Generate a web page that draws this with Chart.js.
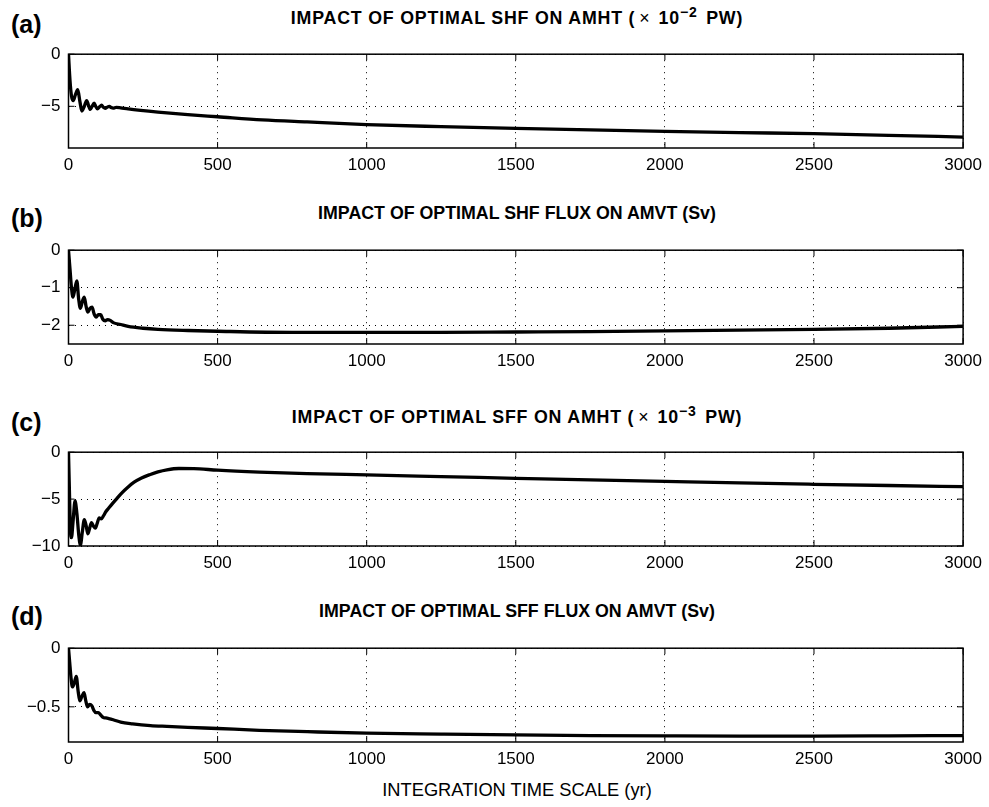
<!DOCTYPE html>
<html>
<head>
<meta charset="utf-8">
<script src="https://cdn.jsdelivr.net/npm/chart.js@4/dist/chart.umd.min.js"></script>
<style>
  body { margin: 0; background: #fff; width: 989px; height: 807px; position: relative; overflow: hidden; font-family: "Liberation Sans", Arial, sans-serif; color: #000; }
  canvas { position: absolute; left: 0; }
  .lbl { position: absolute; left: 11px; font-weight: bold; font-size: 25px; line-height: 1; }
  .ttl { position: absolute; left: 517px; transform: translateX(-50%); font-weight: bold; font-size: 17.8px; line-height: 1; white-space: nowrap; }
  .ttl.wide { letter-spacing: 0.8px; }
  .ttl sup { font-size: 14px; vertical-align: 7px; line-height: 0; margin-right: 3px; }
  .ttl .tm { font-weight: normal; margin: 0 8px 0 4px; }
  .xlab { position: absolute; left: 517px; top: 781px; transform: translateX(-50%); font-size: 18.3px; line-height: 1; white-space: nowrap; }
</style>
</head>
<body>
<div class="lbl" style="top:12px">(a)</div>
<div class="ttl wide" style="top:10px">IMPACT OF OPTIMAL SHF ON AMHT (<span class="tm">×</span>10<sup>−2</sup> PW)</div>
<canvas id="pa" width="989" height="142" style="top:36px"></canvas>

<div class="lbl" style="top:206px">(b)</div>
<div class="ttl" style="top:205px">IMPACT OF OPTIMAL SHF FLUX ON AMVT (Sv)</div>
<canvas id="pb" width="989" height="142" style="top:232px"></canvas>

<div class="lbl" style="top:410px">(c)</div>
<div class="ttl wide" style="top:409px">IMPACT OF OPTIMAL SFF ON AMHT (<span class="tm">×</span>10<sup>−3</sup> PW)</div>
<canvas id="pc" width="989" height="142" style="top:434px"></canvas>

<div class="lbl" style="top:604px">(d)</div>
<div class="ttl" style="top:603px">IMPACT OF OPTIMAL SFF FLUX ON AMVT (Sv)</div>
<canvas id="pd" width="989" height="142" style="top:630px"></canvas>

<div class="xlab">INTEGRATION TIME SCALE (yr)</div>

<script>
const X_TICKS = [0, 500, 1000, 1500, 2000, 2500, 3000];

// (a) optimal SHF -> AMHT (x1e-2 PW)
const YEARS_A = [0, 5, 10, 16, 23, 31, 38, 45, 53, 61, 67, 73, 79, 86, 91, 97, 104, 111, 117, 123, 130, 137, 143, 150, 160, 175, 200, 300, 400, 500, 650, 800, 1000, 1250, 1500, 1750, 2000, 2250, 2500, 2750, 3000];
const AMHT_SHF = [0, -2.5, -4.0, -4.45, -3.9, -3.4, -4.5, -5.45, -5.0, -4.45, -4.9, -5.3, -5.0, -4.7, -5.0, -5.25, -5.05, -4.9, -5.1, -5.2, -5.08, -5.0, -5.12, -5.18, -5.1, -5.15, -5.25, -5.55, -5.8, -6.0, -6.3, -6.5, -6.75, -6.95, -7.12, -7.27, -7.4, -7.52, -7.63, -7.78, -7.95];

// (b) optimal SHF flux -> AMVT (Sv)
const YEARS_B = [0, 5, 10, 15, 21, 28, 34, 40, 47, 53, 59, 65, 72, 79, 86, 93, 100, 108, 115, 123, 131, 140, 150, 175, 200, 250, 300, 400, 500, 750, 1000, 1250, 1500, 1750, 2000, 2250, 2500, 2750, 3000];
const AMVT_SHF = [0, -0.5, -1.0, -1.25, -1.05, -0.82, -1.3, -1.55, -1.35, -1.25, -1.5, -1.65, -1.55, -1.52, -1.7, -1.78, -1.72, -1.72, -1.84, -1.88, -1.85, -1.87, -1.93, -1.98, -2.03, -2.08, -2.11, -2.14, -2.16, -2.19, -2.19, -2.19, -2.18, -2.17, -2.15, -2.13, -2.11, -2.08, -2.03];

// (c) optimal SFF -> AMHT (x1e-3 PW)
const YEARS_C = [0, 3, 6, 10, 15, 22, 28, 35, 40, 46, 53, 59, 65, 71, 77, 84, 90, 97, 103, 110, 117, 125, 135, 148, 162, 180, 200, 220, 245, 272, 300, 330, 370, 420, 500, 640, 800, 1000, 1250, 1500, 1750, 2000, 2250, 2500, 2750, 3000];
const AMHT_SFF = [0, -4, -8, -9.1, -7.5, -5.2, -6.5, -9.0, -9.9, -8.6, -7.2, -7.8, -8.7, -8.1, -7.5, -7.9, -8.1, -7.5, -7.0, -7.1, -6.8, -6.35, -5.95, -5.45, -4.95, -4.3, -3.7, -3.2, -2.75, -2.4, -2.1, -1.88, -1.74, -1.75, -1.92, -2.12, -2.28, -2.42, -2.6, -2.78, -2.96, -3.12, -3.28, -3.42, -3.55, -3.67];

// (d) optimal SFF flux -> AMVT (Sv)
const YEARS_D = [0, 4, 8, 13, 19, 26, 32, 38, 45, 52, 58, 64, 71, 78, 85, 92, 100, 108, 116, 125, 135, 150, 175, 215, 275, 330, 400, 500, 640, 800, 1000, 1250, 1500, 1750, 2000, 2250, 2500, 2750, 3000];
const AMVT_SFF = [0, -0.12, -0.24, -0.33, -0.3, -0.24, -0.36, -0.45, -0.41, -0.38, -0.45, -0.5, -0.48, -0.49, -0.53, -0.55, -0.55, -0.57, -0.59, -0.595, -0.6, -0.61, -0.63, -0.645, -0.66, -0.667, -0.675, -0.685, -0.7, -0.712, -0.725, -0.733, -0.74, -0.745, -0.748, -0.75, -0.75, -0.748, -0.745];

const FONT = { family: '"Liberation Sans", Arial, sans-serif', size: 17 };

function fmtTick(v) {
  return v < 0 ? '\u2212' + String(-v) : String(v);
}

// matlab style box with inward ticks
const boxPlugin = {
  id: 'box',
  afterDraw(chart) {
    const { ctx, chartArea: a, scales } = chart;
    ctx.save();
    ctx.strokeStyle = '#000';
    ctx.lineWidth = 1.5;
    ctx.strokeRect(a.left, a.top, a.right - a.left, a.bottom - a.top);
    ctx.lineWidth = 1;
    ctx.beginPath();
    scales.x.ticks.forEach(t => {
      const px = scales.x.getPixelForValue(t.value);
      ctx.moveTo(px, a.bottom); ctx.lineTo(px, a.bottom - 6);
      ctx.moveTo(px, a.top); ctx.lineTo(px, a.top + 6);
    });
    scales.y.ticks.forEach(t => {
      const py = scales.y.getPixelForValue(t.value);
      ctx.moveTo(a.left, py); ctx.lineTo(a.left + 6, py);
      ctx.moveTo(a.right, py); ctx.lineTo(a.right - 6, py);
    });
    ctx.stroke();
    ctx.restore();
  }
};

function makePanel(id, years, vals, yMin, yTicks) {
  return new Chart(document.getElementById(id), {
    type: 'line',
    data: {
      datasets: [{
        data: years.map((t, i) => ({ x: t, y: vals[i] })),
        borderColor: '#000',
        borderWidth: 3.3,
        pointRadius: 0,
        cubicInterpolationMode: 'monotone',
      }],
    },
    options: {
      responsive: false,
      animation: false,
      devicePixelRatio: 1,
      layout: { padding: { top: 10, right: 22, left: 0, bottom: 0 } },
      plugins: { legend: { display: false }, tooltip: { enabled: false } },
      scales: {
        x: {
          type: 'linear', min: 0, max: 3000,
          afterBuildTicks: s => { s.ticks = X_TICKS.map(v => ({ value: v })); },
          afterFit: s => { s.height = 30; },
          ticks: { color: '#000', font: FONT, padding: 7, maxRotation: 0, callback: v => String(v) },
          grid: { color: '#000', lineWidth: 1, drawTicks: false },
          border: { display: false, dash: [1, 5] },
        },
        y: {
          min: yMin, max: 0,
          afterBuildTicks: s => { s.ticks = yTicks.map(v => ({ value: v })); },
          afterFit: s => { s.width = 68.5; },
          ticks: { color: '#000', font: FONT, padding: 8, callback: v => fmtTick(v) },
          grid: { color: '#000', lineWidth: 1, drawTicks: false },
          border: { display: false, dash: [1, 5] },
        },
      },
    },
    plugins: [boxPlugin],
  });
}

makePanel('pa', YEARS_A, AMHT_SHF, -9, [0, -5]);
makePanel('pb', YEARS_B, AMVT_SHF, -2.5, [0, -1, -2]);
makePanel('pc', YEARS_C, AMHT_SFF, -10, [0, -5, -10]);
makePanel('pd', YEARS_D, AMVT_SFF, -0.8, [0, -0.5]);
</script>
</body>
</html>
